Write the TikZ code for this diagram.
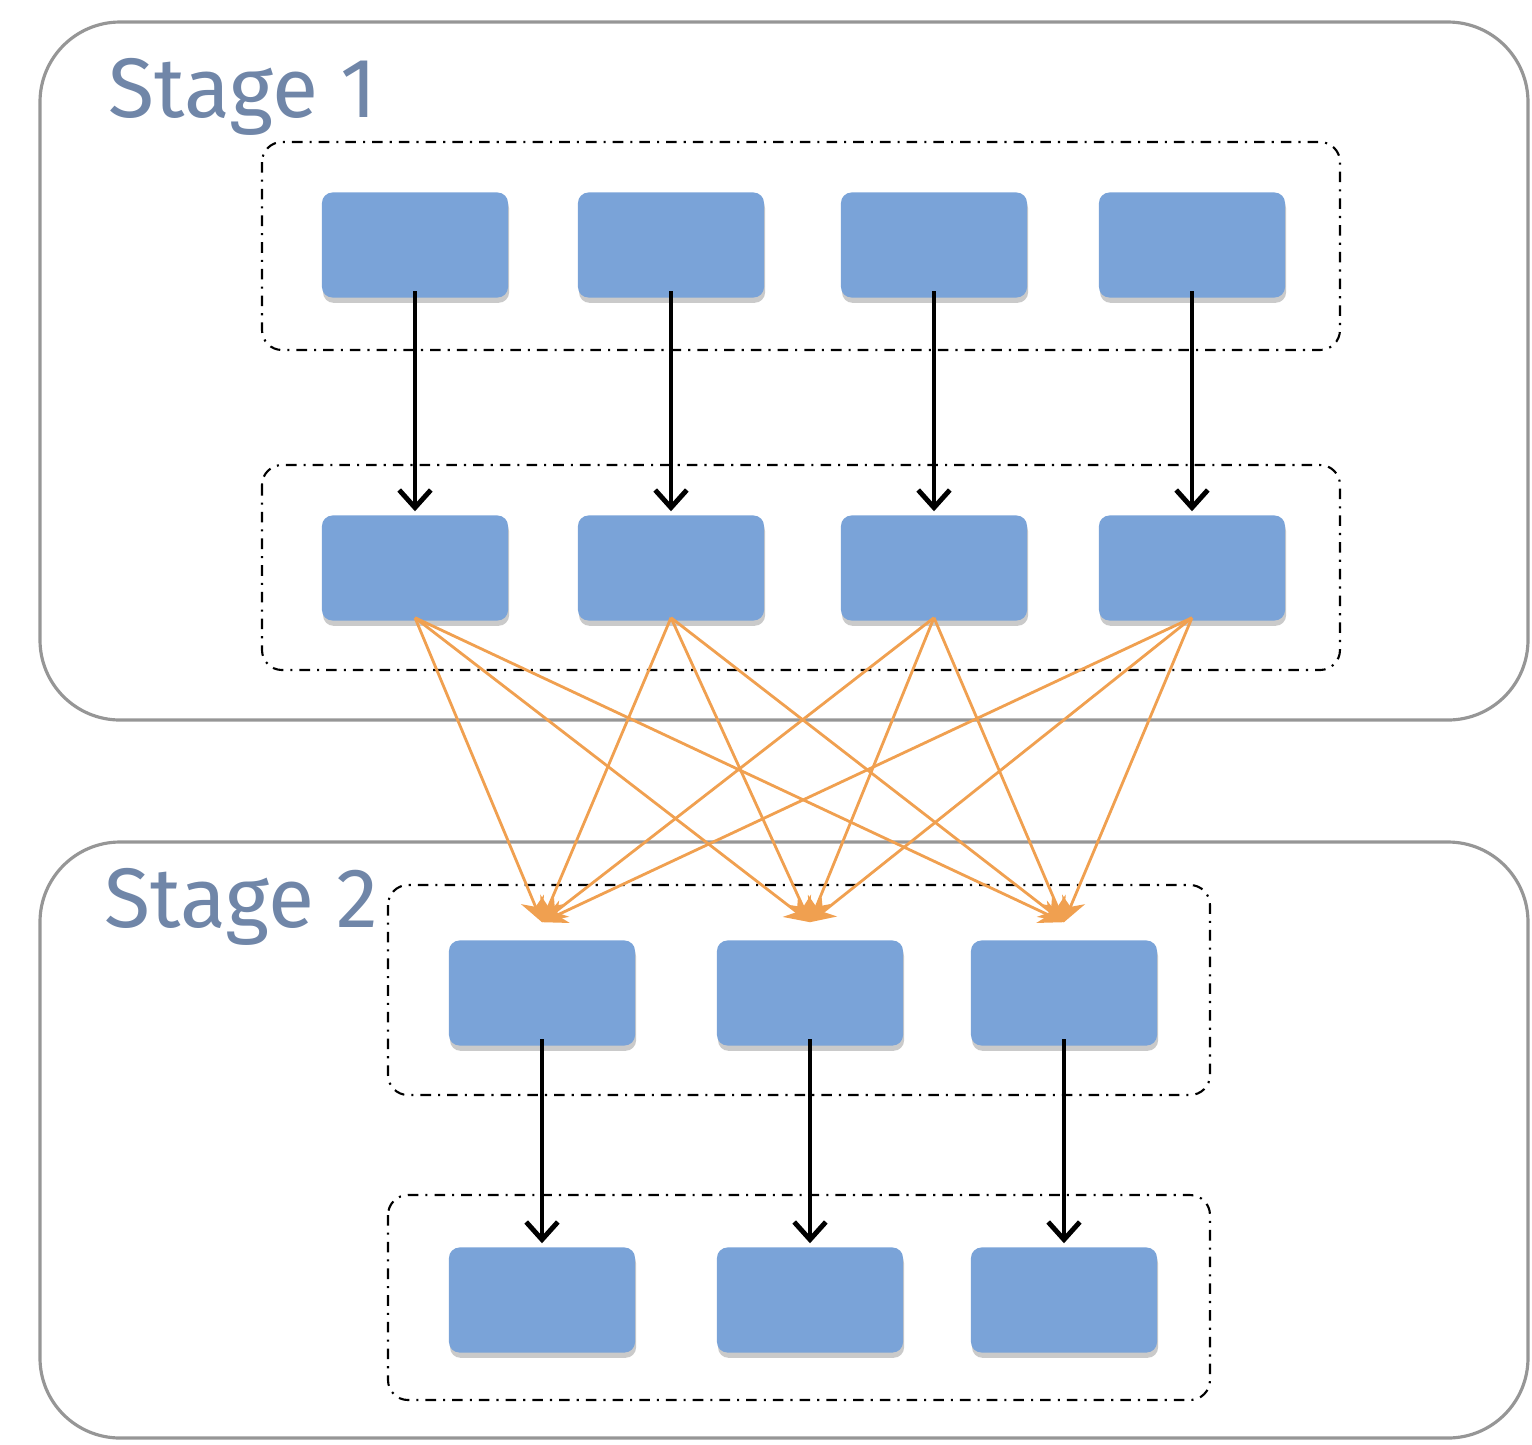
\documentclass[tikz,border=0pt]{standalone}
\usepackage{fontspec}
\setmainfont{Fira Sans}
\usetikzlibrary{arrows.meta,shadows}
\definecolor{blk}{RGB}{122,163,216}
\definecolor{stagec}{RGB}{112,134,168}
\definecolor{outerc}{RGB}{150,150,150}
\definecolor{orangec}{RGB}{240,160,80}
\begin{document}
\begin{tikzpicture}[x=0.01cm,y=-0.01cm,
  blkbox/.style={fill=blk,draw=none,rounded corners=3pt,minimum width=1.86cm,minimum height=1.05cm,
    drop shadow={shadow xshift=0.3pt,shadow yshift=-1.5pt,fill=gray!70,opacity=0.6}},
  outerbox/.style={draw=outerc,line width=0.9pt,rounded corners=0.8cm},
  grpbox/.style={draw=black,line width=0.6pt,dash dot,rounded corners=0.2cm},
  stagelbl/.style={text=stagec,font=\fontsize{24}{28}\selectfont,anchor=base west,inner sep=0pt},
  blkarrow/.style={draw=black,line width=1.4pt,-{Straight Barb[length=5pt,width=9pt,line width=1.4pt]}},
  orarrow/.style={draw=orangec,line width=0.8pt,-{Stealth[length=7pt,width=7pt]}}]
\useasboundingbox (0,0) rectangle (1532,1444);
% outer stage boxes
\draw[outerbox] (40,22) rectangle (1528,720);
\draw[outerbox] (40,842) rectangle (1528,1438);
\node[stagelbl] (s1) at (108,117) {Stage 1};
\node[stagelbl] (s2) at (104,927) {Stage 2};
% group boxes
\draw[grpbox] (262,142) rectangle (1340,350);
\draw[grpbox] (262,465) rectangle (1340,670);
\draw[grpbox] (388,885) rectangle (1210,1095);
\draw[grpbox] (388,1195) rectangle (1210,1400);
% blocks
\foreach \n/\x in {1/415,2/671,3/934,4/1192}{
  \node[blkbox] (a\n) at (\x,245) {};
  \node[blkbox] (b\n) at (\x,568) {};
}
\foreach \n/\x in {1/542,2/810,3/1064}{
  \node[blkbox] (c\n) at (\x,993) {};
  \node[blkbox] (d\n) at (\x,1300) {};
}
% arrows
\foreach \n in {1,2,3,4}{
  \draw[blkarrow] ([yshift=2pt]a\n.south) -- ([yshift=1pt]b\n.north);
}
\foreach \n in {1,2,3}{
  \draw[blkarrow] ([yshift=2pt]c\n.south) -- ([yshift=1pt]d\n.north);
}
\foreach \i in {1,2,3,4}{
  \foreach \j in {1,2,3}{
    \draw[orarrow] ([yshift=1pt]b\i.south) -- ([yshift=5pt]c\j.north);
  }
}
\end{tikzpicture}
\end{document}
